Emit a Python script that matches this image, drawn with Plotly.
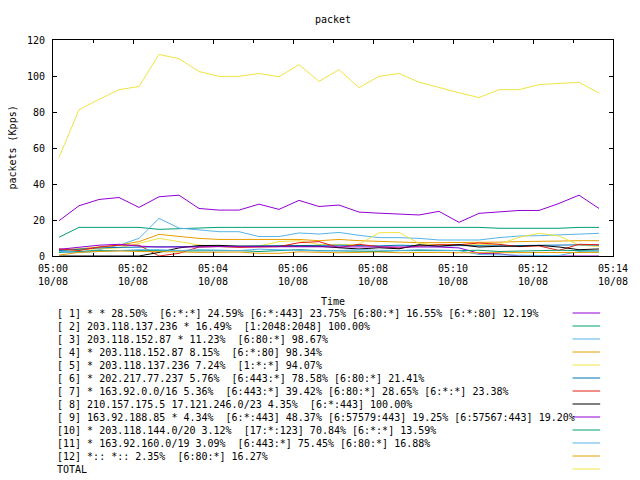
import pandas as pd
import plotly.graph_objects as go

# sample times: every 30 s starting 05:00:09
times = pd.date_range("2023-10-08 05:00:09", periods=28, freq="30s")

s1 = [19.6, 27.9, 31.4, 32.5, 27.0, 32.9, 33.8, 26.4, 25.5, 25.5, 28.8, 25.9, 30.9, 27.5,
      28.3, 24.4, 23.8, 23.3, 22.8, 24.8, 18.7, 23.7, 24.4, 25.3, 25.3, 29.2, 33.8, 26.4]
s2 = [10.4, 15.9, 15.9, 15.9, 15.9, 14.8, 15.2, 15.9, 15.9, 15.9, 15.9, 15.9, 15.9, 15.9,
      15.9, 15.9, 15.9, 15.9, 15.9, 15.9, 15.9, 15.9, 15.4, 15.4, 15.4, 15.4, 15.9, 15.9]
s3 = [2.5, 2.2, 3.5, 6.0, 9.8, 20.9, 15.5, 14.4, 13.5, 13.5, 10.8, 10.8, 12.8, 12.2,
      13.1, 11.5, 10.2, 10.2, 9.8, 8.9, 8.8, 8.9, 10.2, 11.1, 11.3, 11.6, 12.2, 12.6]
s4 = [3.5, 4.0, 5.0, 6.0, 8.0, 12.0, 10.9, 9.8, 9.2, 9.2, 8.9, 8.9, 9.2, 8.5,
      9.2, 8.5, 8.0, 7.8, 7.4, 7.4, 7.4, 7.4, 7.7, 8.0, 8.0, 8.3, 8.5, 8.5]
s5 = [3.0, 3.5, 4.0, 4.5, 7.0, 9.8, 8.0, 6.1, 5.2, 5.0, 5.5, 8.0, 8.5, 6.4,
      6.3, 6.5, 12.9, 13.1, 7.0, 6.1, 6.1, 6.1, 6.5, 10.4, 12.6, 11.1, 6.1, 5.2]
s6 = [3.0, 3.8, 4.5, 4.8, 5.0, 5.2, 5.0, 5.3, 5.5, 5.5, 5.6, 5.6, 5.8, 6.2,
      6.0, 5.8, 5.6, 6.0, 5.8, 5.5, 5.8, 5.5, 5.6, 5.8, 6.0, 5.8, 6.2, 6.0]
s7 = [4.0, 3.0, 5.0, 6.0, 6.0, 0.0, 1.5, 5.0, 5.3, 4.8, 5.0, 5.2, 7.4, 8.0,
      4.6, 6.5, 5.2, 4.4, 5.5, 6.3, 6.3, 7.2, 6.5, 5.2, 5.6, 3.1, 6.5, 6.3]
s8 = [0.0, 0.0, 0.0, 0.0, 0.0, 2.0, 4.5, 5.8, 5.9, 5.4, 5.4, 5.4, 5.4, 5.4,
      4.6, 3.9, 4.6, 4.0, 6.3, 5.4, 6.3, 5.0, 5.4, 5.4, 5.9, 5.0, 3.5, 3.9]
s9 = [3.7, 4.8, 6.0, 6.5, 5.5, 5.0, 4.8, 5.0, 5.2, 5.2, 5.0, 5.2, 5.0, 4.8,
      5.0, 5.2, 5.0, 5.2, 5.2, 5.0, 4.5, 1.5, 1.2, 0.0, 0.0, 0.0, 0.0, 0.0]
s10 = [2.0, 2.5, 3.0, 3.0, 3.2, 3.0, 2.8, 3.0, 3.2, 3.0, 2.5, 3.0, 3.5, 3.0,
       2.8, 3.0, 2.5, 3.0, 3.2, 3.0, 3.0, 3.2, 2.5, 2.8, 3.0, 3.2, 3.0, 2.8]
s11 = [2.5, 2.0, 2.5, 3.0, 3.5, 3.5, 3.0, 3.5, 3.2, 3.0, 3.8, 3.5, 3.0, 2.8,
       3.0, 3.5, 3.2, 3.0, 3.5, 3.2, 3.0, 0.8, 0.5, 0.5, 0.3, 0.3, 2.5, 2.8]
s12 = [0.5, 2.0, 2.5, 2.8, 2.5, 2.5, 2.3, 2.0, 2.0, 2.2, 1.5, 1.5, 2.3, 2.0,
       1.8, 2.0, 2.2, 1.8, 2.0, 2.0, 1.8, 1.8, 2.0, 2.0, 1.8, 2.0, 2.0, 2.0]
total = [54.7, 81.3, 87.0, 92.4, 94.2, 112.0, 109.6, 102.5, 99.8, 99.8, 101.4, 99.6, 106.3, 97.0,
         103.5, 93.5, 99.8, 101.4, 96.6, 93.5, 90.7, 88.0, 92.4, 92.4, 95.2, 95.9, 96.5, 90.5]

series = [s1, s2, s3, s4, s5, s6, s7, s8, s9, s10, s11, s12, total]

labels = [
    "[ 1] * * 28.50%  [6:*:*] 24.59% [6:*:443] 23.75% [6:80:*] 16.55% [6:*:80] 12.19%",
    "[ 2] 203.118.137.236 * 16.49%  [1:2048:2048] 100.00%",
    "[ 3] 203.118.152.87 * 11.23%  [6:80:*] 98.67%",
    "[ 4] * 203.118.152.87 8.15%  [6:*:80] 98.34%",
    "[ 5] * 203.118.137.236 7.24%  [1:*:*] 94.07%",
    "[ 6] * 202.217.77.237 5.76%  [6:443:*] 78.58% [6:80:*] 21.41%",
    "[ 7] * 163.92.0.0/16 5.36%  [6:443:*] 39.42% [6:80:*] 28.65% [6:*:*] 23.38%",
    "[ 8] 210.157.175.5 17.121.246.0/23 4.35%  [6:*:443] 100.00%",
    "[ 9] 163.92.188.85 * 4.34%  [6:*:443] 48.37% [6:57579:443] 19.25% [6:57567:443] 19.20%",
    "[10] * 203.118.144.0/20 3.12%  [17:*:123] 70.84% [6:*:*] 13.59%",
    "[11] * 163.92.160.0/19 3.09%  [6:443:*] 75.45% [6:80:*] 16.88%",
    "[12] *:: *:: 2.35%  [6:80:*] 16.27%",
    "TOTAL",
]

palette = ["#9400D3", "#009E73", "#56B4E9", "#E69F00", "#F0E442", "#0072B2", "#E51E10", "black"]

FONT = "DejaVu Sans Mono"
OFF = 8                      # page body margin of the browser
W, H = 640 - OFF, 480 - OFF
L, R, T, B = 53 - OFF, 621 - OFF, 40 - OFF, 256 - OFF   # plot box in figure pixels


def px_x(p):
    # p is a pixel x in the 640x480 screenshot
    return (p - OFF - L) / (R - L)


def px_y(p):
    return (B - (p - OFF)) / (B - T)


fig = go.Figure()
for i, (vals, name) in enumerate(zip(series, labels)):
    fig.add_trace(go.Scatter(
        x=times, y=vals, mode="lines", name=name,
        line=dict(color=palette[i % len(palette)], width=1),
    ))

# gnuplot style key below the plot: text left, sample line right
annotations = []
shapes = []
for i, name in enumerate(labels):
    ypx = 313 + 13 * i
    annotations.append(dict(
        x=px_x(55), y=px_y(ypx), xref="paper", yref="paper",
        text=name.replace(" ", "\u00a0"), showarrow=False,
        xanchor="left", yanchor="middle",
        font=dict(family=FONT, size=10, color="black"),
    ))
    shapes.append(dict(
        type="line", xref="paper", yref="paper",
        x0=px_x(580), x1=px_x(608), y0=px_y(ypx), y1=px_y(ypx),
        line=dict(color=palette[i % len(palette)], width=1),
    ))

annotations.append(dict(
    x=px_x(337), y=px_y(301), xref="paper", yref="paper", text="Time",
    showarrow=False, xanchor="center", yanchor="middle",
    font=dict(family=FONT, size=10, color="black"),
))
annotations.append(dict(
    x=px_x(11), y=px_y(148), xref="paper", yref="paper", text="packets (Kpps)",
    showarrow=False, textangle=-90, xanchor="center", yanchor="middle",
    font=dict(family=FONT, size=10, color="black"),
))

fig.update_layout(
    width=W, height=H,
    margin=dict(l=L, r=W - R, t=T, b=H - B),
    paper_bgcolor="white", plot_bgcolor="white",
    showlegend=False,
    title=dict(text="packet", x=0.5, xref="paper", xanchor="center",
               y=1 - (19 - OFF) / H, yanchor="middle",
               font=dict(family=FONT, size=10, color="black")),
    font=dict(family=FONT, size=10, color="black"),
    annotations=annotations,
    shapes=shapes,
)
fig.update_xaxes(
    type="date",
    range=["2023-10-08 05:00:00", "2023-10-08 05:14:00"],
    tick0="2023-10-08 05:00:00", dtick=120000,
    tickformat="%H:%M<br>%m/%d",
    ticks="inside", ticklen=4, tickcolor="black",
    minor=dict(dtick=60000, ticks="inside", ticklen=3, tickcolor="black", showgrid=False),
    showline=True, linecolor="black", linewidth=1, mirror="ticks",
    showgrid=False, zeroline=False, ticklabelstandoff=3,
    tickfont=dict(family=FONT, size=10, color="black"),
)
fig.update_yaxes(
    range=[0, 120], dtick=20,
    ticks="inside", ticklen=4, tickcolor="black",
    showline=True, linecolor="black", linewidth=1, mirror="ticks",
    showgrid=False, zeroline=False, ticklabelstandoff=5,
    tickfont=dict(family=FONT, size=10, color="black"),
)

fig.write_html("out.html")
